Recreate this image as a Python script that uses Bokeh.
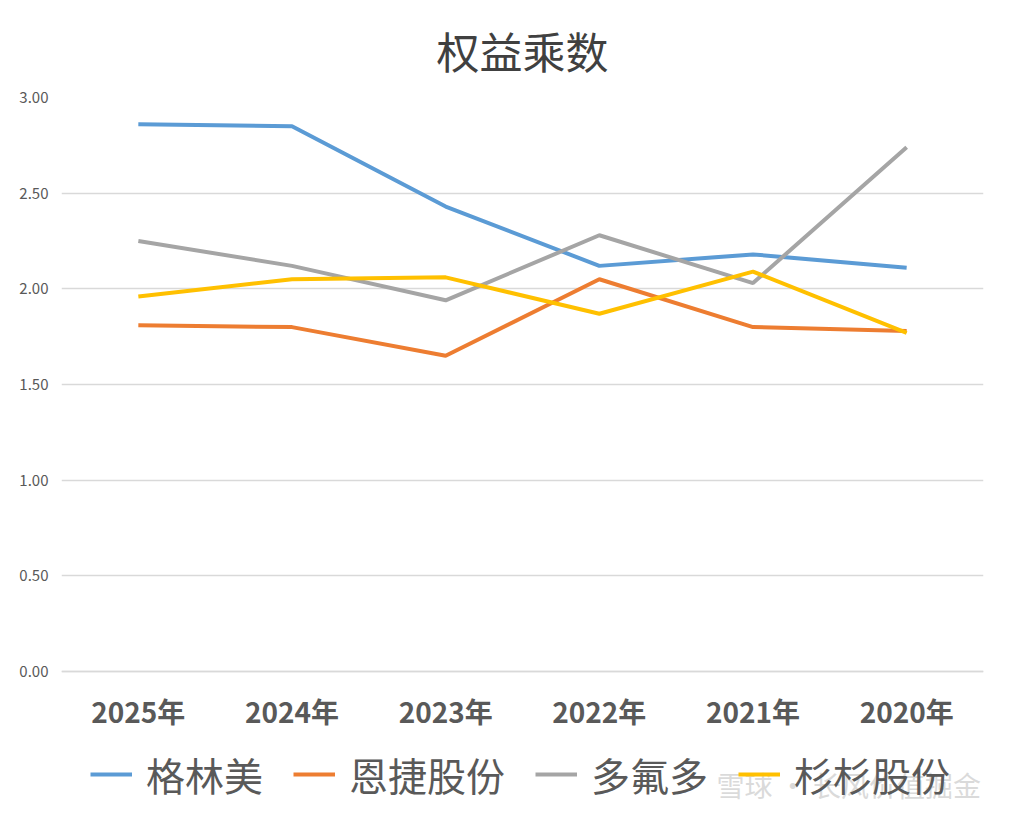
from bokeh.plotting import figure
from bokeh.models import FactorRange, Range1d, Legend, LegendItem, Label, NumeralTickFormatter, FixedTicker
from bokeh.embed import file_html
from bokeh.resources import INLINE

title = "权益乘数"
years = ["2025年", "2024年", "2023年", "2022年", "2021年", "2020年"]
series_names = ["格林美", "恩捷股份", "多氟多", "杉杉股份"]
gem = [2.86, 2.85, 2.43, 2.12, 2.18, 2.11]
enjie = [1.81, 1.80, 1.65, 2.05, 1.80, 1.78]
dfd = [2.25, 2.12, 1.94, 2.28, 2.03, 2.74]
shanshan = [1.96, 2.05, 2.06, 1.87, 2.09, 1.77]
y_ticks = [0, 0.5, 1.0, 1.5, 2.0, 2.5, 3.0]
colors = ["#5B9BD5", "#ED7D31", "#A5A5A5", "#FFC000"]
watermark = "雪球 · 长风价值掘金"

CJK = "Noto Sans CJK SC"

PLOT_H = 574      # pixel height of the 0..3 value band
BELOW = 150       # room under the value band for year labels and legend
y_min = -BELOW * 3.0 / PLOT_H

p = figure(frame_width=922, frame_height=PLOT_H + BELOW, x_range=FactorRange(*years),
           y_range=Range1d(y_min, 3.0),
           output_backend="svg", toolbar_location=None,
           min_border_left=61, min_border_right=49, min_border_top=97, min_border_bottom=0)

p.title.text = title
p.title.align = "center"
p.title.text_font = CJK
p.title.text_font_size = "43px"
p.title.text_font_style = "normal"
p.title.text_color = "#404040"
p.title.standoff = 33

p.outline_line_color = None
p.xgrid.grid_line_color = None
p.ygrid.grid_line_color = "#D9D9D9"
p.ygrid.grid_line_width = 1.5

p.yaxis.ticker = FixedTicker(ticks=y_ticks)
p.yaxis.formatter = NumeralTickFormatter(format="0.00")
p.yaxis.axis_line_color = None
p.yaxis.major_tick_line_color = None
p.yaxis.minor_tick_line_color = None
p.yaxis.major_label_text_font = CJK
p.yaxis.major_label_text_font_size = "15px"
p.yaxis.major_label_text_color = "#595959"
p.yaxis.major_label_standoff = 7

p.xaxis.fixed_location = 0
p.xaxis.axis_line_color = "#D9D9D9"
p.xaxis.axis_line_width = 1.5
p.xaxis.major_tick_line_color = None
p.xaxis.minor_tick_line_color = None
p.xaxis.major_label_text_font = CJK
p.xaxis.major_label_text_font_size = "28px"
p.xaxis.major_label_text_font_style = "bold"
p.xaxis.major_label_text_color = "#595959"
p.xaxis.major_label_standoff = 13

items = []
for name, vals, c in zip(series_names, [gem, enjie, dfd, shanshan], colors):
    r = p.line(years, vals, line_color=c, line_width=4)
    items.append(LegendItem(label=name, renderers=[r]))

wm = Label(x=655, y=17, x_units="screen", y_units="screen", text=watermark,
           text_font=CJK, text_font_size="28px", text_color="#d4d4d4", text_alpha=0.85)
p.add_layout(wm)

legend = Legend(items=items, orientation="horizontal", location=(29, 19),
                label_text_font=CJK, label_text_font_size="39px", label_text_color="#595959",
                glyph_width=42, glyph_height=20, label_standoff=14, spacing=30,
                padding=0, margin=0, border_line_color=None, background_fill_alpha=0)
p.add_layout(legend)

open("out.html", "w").write(file_html(p, INLINE))
